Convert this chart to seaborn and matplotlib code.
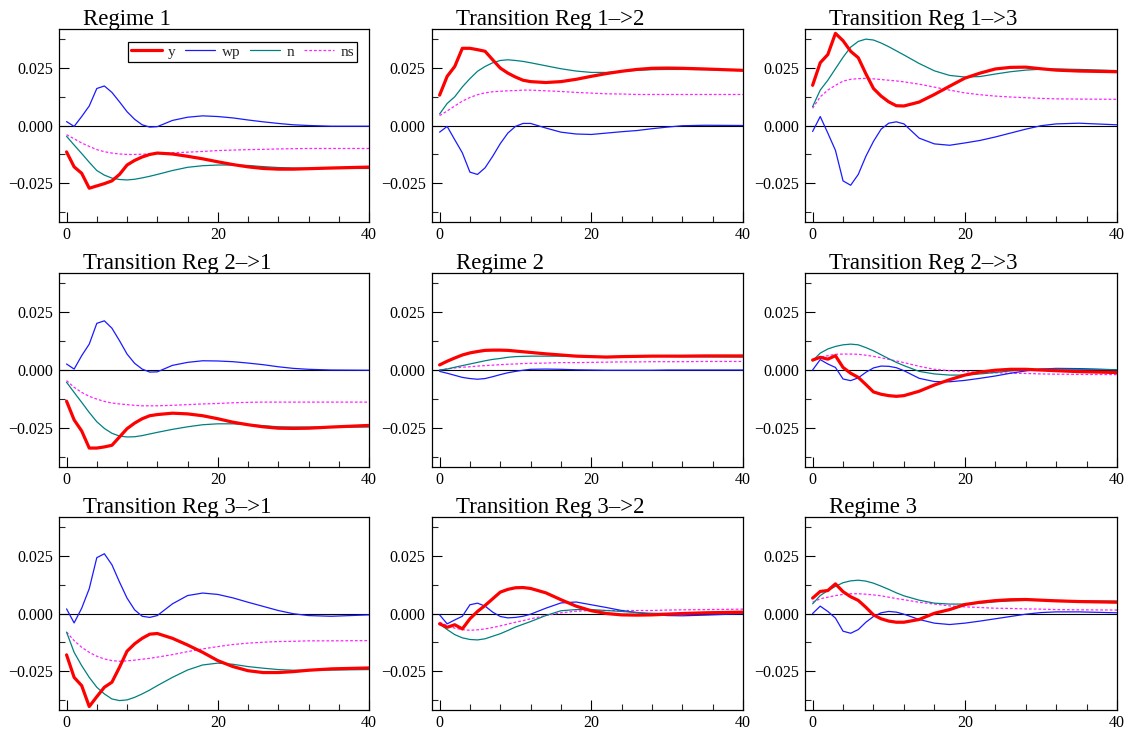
import matplotlib
matplotlib.use("Agg")
import matplotlib.pyplot as plt
from matplotlib.ticker import FixedLocator, MultipleLocator, FuncFormatter
import seaborn as sns

# Impulse-response horizons (quarters)
horizon = [0, 1, 2, 3, 4, 5, 6, 7, 8, 9, 10, 11, 12, 14, 16, 18, 20, 22, 24, 26, 28, 30, 32, 35, 40]

titles = ["Regime 1", "Transition Reg 1\u2013>2", "Transition Reg 1\u2013>3",
          "Transition Reg 2\u2013>1", "Regime 2", "Transition Reg 2\u2013>3",
          "Transition Reg 3\u2013>1", "Transition Reg 3\u2013>2", "Regime 3"]

series_names = ["y", "wp", "n", "ns"]

# Regime 1
y_11 = [-0.0115, -0.0180, -0.0208, -0.0273, -0.0263, -0.0253, -0.0241, -0.0213, -0.0172, -0.0152, -0.0137, -0.0126, -0.0120, -0.0124, -0.0134, -0.0145, -0.0158, -0.0170, -0.0180, -0.0187, -0.0190, -0.0190, -0.0188, -0.0185, -0.0181]
wp_11 = [0.0017, -0.0004, 0.0039, 0.0085, 0.0161, 0.0172, 0.0144, 0.0103, 0.0060, 0.0027, 0.0003, -0.0007, -0.0005, 0.0022, 0.0036, 0.0042, 0.0039, 0.0033, 0.0024, 0.0016, 0.0009, 0.0003, 0.0000, -0.0003, -0.0003]
n_11 = [-0.0047, -0.0085, -0.0122, -0.0160, -0.0196, -0.0216, -0.0229, -0.0235, -0.0237, -0.0234, -0.0228, -0.0221, -0.0213, -0.0196, -0.0182, -0.0175, -0.0172, -0.0172, -0.0174, -0.0179, -0.0183, -0.0185, -0.0186, -0.0187, -0.0187]
ns_11 = [-0.0040, -0.0058, -0.0076, -0.0091, -0.0105, -0.0114, -0.0120, -0.0124, -0.0126, -0.0126, -0.0125, -0.0124, -0.0122, -0.0119, -0.0116, -0.0113, -0.0109, -0.0107, -0.0105, -0.0104, -0.0102, -0.0101, -0.0100, -0.0100, -0.0100]

# Transition 1 -> 2
y_12 = [0.0132, 0.0214, 0.0257, 0.0336, 0.0336, 0.0330, 0.0323, 0.0286, 0.0250, 0.0228, 0.0211, 0.0197, 0.0191, 0.0187, 0.0191, 0.0201, 0.0214, 0.0226, 0.0236, 0.0244, 0.0249, 0.0250, 0.0249, 0.0246, 0.0240]
wp_12 = [-0.0029, -0.0004, -0.0062, -0.0119, -0.0203, -0.0213, -0.0184, -0.0134, -0.0079, -0.0033, -0.0004, 0.0009, 0.0009, -0.0011, -0.0029, -0.0037, -0.0039, -0.0033, -0.0027, -0.0022, -0.0014, -0.0007, -0.0001, 0.0001, 0.0000]
n_12 = [0.0050, 0.0096, 0.0125, 0.0168, 0.0204, 0.0236, 0.0257, 0.0273, 0.0283, 0.0286, 0.0283, 0.0279, 0.0273, 0.0260, 0.0247, 0.0237, 0.0231, 0.0231, 0.0236, 0.0240, 0.0243, 0.0244, 0.0244, 0.0243, 0.0241]
ns_12 = [0.0043, 0.0063, 0.0085, 0.0106, 0.0122, 0.0134, 0.0142, 0.0147, 0.0149, 0.0151, 0.0152, 0.0154, 0.0154, 0.0151, 0.0148, 0.0144, 0.0141, 0.0138, 0.0137, 0.0135, 0.0135, 0.0135, 0.0135, 0.0135, 0.0135]

# Transition 1 -> 3
y_13 = [0.0175, 0.0273, 0.0309, 0.0401, 0.0369, 0.0323, 0.0295, 0.0225, 0.0161, 0.0128, 0.0103, 0.0086, 0.0085, 0.0102, 0.0135, 0.0171, 0.0206, 0.0228, 0.0246, 0.0253, 0.0254, 0.0247, 0.0241, 0.0237, 0.0234]
wp_13 = [-0.0026, 0.0039, -0.0033, -0.0108, -0.0241, -0.0260, -0.0213, -0.0134, -0.0069, -0.0016, 0.0010, 0.0016, 0.0007, -0.0055, -0.0080, -0.0086, -0.0076, -0.0065, -0.0050, -0.0033, -0.0016, -0.0001, 0.0007, 0.0010, 0.0003]
n_13 = [0.0082, 0.0154, 0.0197, 0.0247, 0.0297, 0.0341, 0.0366, 0.0376, 0.0372, 0.0359, 0.0343, 0.0325, 0.0307, 0.0270, 0.0238, 0.0218, 0.0211, 0.0213, 0.0224, 0.0234, 0.0241, 0.0245, 0.0246, 0.0244, 0.0239]
ns_13 = [0.0075, 0.0125, 0.0154, 0.0175, 0.0193, 0.0201, 0.0204, 0.0205, 0.0203, 0.0200, 0.0197, 0.0194, 0.0190, 0.0180, 0.0167, 0.0154, 0.0142, 0.0134, 0.0128, 0.0124, 0.0121, 0.0118, 0.0116, 0.0115, 0.0114]

# Transition 2 -> 1
y_21 = [-0.0135, -0.0216, -0.0264, -0.0338, -0.0338, -0.0333, -0.0326, -0.0290, -0.0254, -0.0230, -0.0211, -0.0198, -0.0193, -0.0187, -0.0190, -0.0198, -0.0211, -0.0226, -0.0237, -0.0246, -0.0252, -0.0253, -0.0252, -0.0247, -0.0240]
wp_21 = [0.0026, 0.0004, 0.0062, 0.0112, 0.0202, 0.0213, 0.0181, 0.0127, 0.0069, 0.0029, 0.0004, -0.0009, -0.0008, 0.0020, 0.0033, 0.0040, 0.0039, 0.0036, 0.0030, 0.0023, 0.0014, 0.0007, 0.0003, 0.0000, -0.0001]
n_21 = [-0.0053, -0.0097, -0.0140, -0.0184, -0.0224, -0.0253, -0.0274, -0.0286, -0.0290, -0.0289, -0.0284, -0.0277, -0.0270, -0.0257, -0.0246, -0.0237, -0.0233, -0.0233, -0.0237, -0.0241, -0.0246, -0.0247, -0.0247, -0.0247, -0.0247]
ns_21 = [-0.0046, -0.0075, -0.0097, -0.0114, -0.0126, -0.0136, -0.0143, -0.0147, -0.0150, -0.0153, -0.0155, -0.0155, -0.0155, -0.0153, -0.0150, -0.0147, -0.0145, -0.0142, -0.0140, -0.0139, -0.0139, -0.0139, -0.0139, -0.0139, -0.0139]

# Regime 2
y_22 = [0.0022, 0.0038, 0.0052, 0.0065, 0.0074, 0.0080, 0.0085, 0.0086, 0.0086, 0.0085, 0.0082, 0.0079, 0.0076, 0.0070, 0.0065, 0.0060, 0.0058, 0.0056, 0.0058, 0.0059, 0.0060, 0.0060, 0.0060, 0.0061, 0.0061]
wp_22 = [-0.0006, -0.0014, -0.0023, -0.0032, -0.0037, -0.0040, -0.0037, -0.0029, -0.0020, -0.0012, -0.0006, -0.0001, 0.0003, 0.0004, 0.0003, 0.0001, 0.0000, -0.0001, -0.0001, -0.0001, -0.0001, 0.0000, 0.0000, 0.0000, 0.0000]
n_22 = [0.0000, 0.0004, 0.0012, 0.0019, 0.0026, 0.0033, 0.0040, 0.0046, 0.0050, 0.0055, 0.0058, 0.0059, 0.0060, 0.0060, 0.0060, 0.0059, 0.0058, 0.0058, 0.0058, 0.0059, 0.0059, 0.0059, 0.0058, 0.0057, 0.0056]
ns_22 = [0.0000, 0.0005, 0.0009, 0.0012, 0.0014, 0.0017, 0.0019, 0.0021, 0.0023, 0.0025, 0.0026, 0.0028, 0.0029, 0.0030, 0.0032, 0.0032, 0.0033, 0.0034, 0.0035, 0.0035, 0.0036, 0.0036, 0.0036, 0.0037, 0.0037]

# Transition 2 -> 3
y_23 = [0.0043, 0.0055, 0.0047, 0.0062, 0.0011, -0.0014, -0.0032, -0.0063, -0.0095, -0.0105, -0.0111, -0.0114, -0.0111, -0.0092, -0.0065, -0.0042, -0.0022, -0.0009, -0.0001, 0.0003, 0.0003, 0.0000, -0.0003, -0.0007, -0.0011]
wp_23 = [0.0000, 0.0045, 0.0026, 0.0011, -0.0039, -0.0046, -0.0034, -0.0010, 0.0009, 0.0017, 0.0016, 0.0010, -0.0003, -0.0036, -0.0050, -0.0051, -0.0045, -0.0036, -0.0026, -0.0014, -0.0004, 0.0004, 0.0007, 0.0006, 0.0001]
n_23 = [0.0040, 0.0073, 0.0091, 0.0102, 0.0109, 0.0112, 0.0109, 0.0097, 0.0083, 0.0066, 0.0049, 0.0033, 0.0019, -0.0006, -0.0017, -0.0022, -0.0022, -0.0017, -0.0011, -0.0004, 0.0000, 0.0003, 0.0004, 0.0003, 0.0001]
ns_23 = [0.0040, 0.0055, 0.0062, 0.0068, 0.0069, 0.0069, 0.0068, 0.0064, 0.0059, 0.0053, 0.0046, 0.0039, 0.0032, 0.0016, 0.0003, -0.0003, -0.0007, -0.0010, -0.0012, -0.0014, -0.0015, -0.0017, -0.0018, -0.0019, -0.0020]

# Transition 3 -> 1
y_31 = [-0.0180, -0.0278, -0.0314, -0.0405, -0.0362, -0.0321, -0.0299, -0.0234, -0.0164, -0.0132, -0.0108, -0.0090, -0.0087, -0.0108, -0.0137, -0.0169, -0.0205, -0.0231, -0.0249, -0.0257, -0.0257, -0.0253, -0.0247, -0.0241, -0.0237]
wp_31 = [0.0020, -0.0041, 0.0023, 0.0108, 0.0243, 0.0260, 0.0212, 0.0137, 0.0067, 0.0016, -0.0012, -0.0017, -0.0009, 0.0042, 0.0078, 0.0089, 0.0083, 0.0068, 0.0049, 0.0031, 0.0013, -0.0001, -0.0009, -0.0012, -0.0006]
n_31 = [-0.0081, -0.0169, -0.0227, -0.0278, -0.0321, -0.0350, -0.0372, -0.0379, -0.0376, -0.0365, -0.0350, -0.0333, -0.0314, -0.0278, -0.0246, -0.0224, -0.0216, -0.0221, -0.0231, -0.0238, -0.0244, -0.0247, -0.0247, -0.0246, -0.0244]
ns_31 = [-0.0081, -0.0118, -0.0147, -0.0169, -0.0186, -0.0198, -0.0205, -0.0208, -0.0206, -0.0203, -0.0199, -0.0195, -0.0190, -0.0179, -0.0166, -0.0154, -0.0144, -0.0135, -0.0129, -0.0125, -0.0122, -0.0121, -0.0119, -0.0119, -0.0118]

# Transition 3 -> 2
y_32 = [-0.0045, -0.0060, -0.0049, -0.0067, -0.0023, 0.0009, 0.0035, 0.0064, 0.0093, 0.0105, 0.0112, 0.0113, 0.0109, 0.0090, 0.0060, 0.0032, 0.0012, 0.0000, -0.0006, -0.0007, -0.0006, -0.0003, 0.0000, 0.0003, 0.0006]
wp_32 = [-0.0006, -0.0045, -0.0028, -0.0012, 0.0038, 0.0045, 0.0032, 0.0006, -0.0013, -0.0019, -0.0017, -0.0012, -0.0003, 0.0023, 0.0046, 0.0050, 0.0038, 0.0026, 0.0013, 0.0004, -0.0004, -0.0009, -0.0010, -0.0007, -0.0001]
n_32 = [-0.0045, -0.0070, -0.0092, -0.0106, -0.0113, -0.0115, -0.0110, -0.0099, -0.0088, -0.0074, -0.0059, -0.0047, -0.0035, -0.0009, 0.0012, 0.0017, 0.0017, 0.0013, 0.0009, 0.0004, 0.0001, 0.0000, 0.0000, 0.0001, 0.0003]
ns_32 = [-0.0038, -0.0052, -0.0064, -0.0070, -0.0073, -0.0071, -0.0067, -0.0061, -0.0054, -0.0046, -0.0038, -0.0031, -0.0023, -0.0009, 0.0003, 0.0010, 0.0013, 0.0013, 0.0013, 0.0013, 0.0013, 0.0015, 0.0016, 0.0017, 0.0019]

# Regime 3
y_33 = [0.0067, 0.0096, 0.0100, 0.0129, 0.0095, 0.0073, 0.0057, 0.0027, -0.0006, -0.0023, -0.0033, -0.0038, -0.0038, -0.0026, 0.0001, 0.0017, 0.0039, 0.0049, 0.0056, 0.0060, 0.0061, 0.0058, 0.0055, 0.0052, 0.0049]
wp_33 = [0.0000, 0.0032, 0.0009, -0.0020, -0.0077, -0.0086, -0.0070, -0.0038, -0.0013, 0.0003, 0.0009, 0.0006, -0.0003, -0.0026, -0.0042, -0.0048, -0.0042, -0.0033, -0.0023, -0.0013, -0.0003, 0.0004, 0.0007, 0.0007, 0.0003]
n_33 = [0.0042, 0.0078, 0.0100, 0.0118, 0.0134, 0.0142, 0.0145, 0.0141, 0.0132, 0.0119, 0.0105, 0.0090, 0.0077, 0.0058, 0.0045, 0.0041, 0.0041, 0.0045, 0.0051, 0.0055, 0.0057, 0.0057, 0.0057, 0.0055, 0.0054]
ns_33 = [0.0049, 0.0064, 0.0071, 0.0078, 0.0083, 0.0086, 0.0086, 0.0084, 0.0081, 0.0077, 0.0071, 0.0065, 0.0060, 0.0049, 0.0041, 0.0033, 0.0029, 0.0026, 0.0023, 0.0022, 0.0020, 0.0019, 0.0017, 0.0016, 0.0015]

panels = [
    (y_11, wp_11, n_11, ns_11), (y_12, wp_12, n_12, ns_12), (y_13, wp_13, n_13, ns_13),
    (y_21, wp_21, n_21, ns_21), (y_22, wp_22, n_22, ns_22), (y_23, wp_23, n_23, ns_23),
    (y_31, wp_31, n_31, ns_31), (y_32, wp_32, n_32, ns_32), (y_33, wp_33, n_33, ns_33),
]

styles = {
    "y": dict(color="#ff0000", linewidth=2.3, linestyle="-", zorder=5),
    "wp": dict(color="#1a1aff", linewidth=0.9, linestyle="-", zorder=3),
    "n": dict(color="#008080", linewidth=0.9, linestyle="-", zorder=4),
    "ns": dict(color="#ff22ff", linewidth=0.9, linestyle=(0, (2.2, 1.6)), zorder=2),
}

sns.set_theme(style="ticks")
plt.rcParams["font.family"] = ["Liberation Serif", "DejaVu Serif"]
plt.rcParams["axes.edgecolor"] = "black"
plt.rcParams["axes.linewidth"] = 0.9

W, H = 1126, 732
fig = plt.figure(figsize=(W / 100, H / 100), dpi=100)
fig.patch.set_facecolor("white")

cols = [(59, 369), (432, 743), (805, 1117)]
rows = [(29, 222), (273, 467), (517, 710)]

fmt = FuncFormatter(lambda v, p: f"{v:.3f}".replace("-", "\u2212"))

axes = []
for k, (vals, title) in enumerate(zip(panels, titles)):
    r, c = divmod(k, 3)
    (l, rr), (t, b) = cols[c], rows[r]
    ax = fig.add_axes([l / W, 1 - b / H, (rr - l) / W, (b - t) / H])
    axes.append(ax)
    ax.axhline(0, color="black", linewidth=0.8, zorder=1)
    for name, v in zip(series_names, vals):
        kw = dict(styles[name])
        if k == 0:
            kw["label"] = name
        sns.lineplot(x=horizon, y=v, ax=ax, **kw)
    if ax.get_legend() is not None:
        ax.get_legend().remove()
    ax.set_xlim(-1, 40)
    ax.set_ylim(-0.042, 0.042)
    ax.xaxis.set_major_locator(FixedLocator([0, 20, 40]))
    ax.xaxis.set_minor_locator(MultipleLocator(4))
    ax.yaxis.set_major_locator(FixedLocator([-0.025, 0.0, 0.025]))
    ax.yaxis.set_minor_locator(FixedLocator([-0.0375, -0.0125, 0.0125, 0.0375]))
    ax.yaxis.set_major_formatter(fmt)
    ax.tick_params(axis="both", which="major", direction="in", length=7, width=0.8,
                   labelsize=11.5, colors="black", top=False, right=False)
    ax.tick_params(axis="both", which="minor", direction="in", length=4, width=0.8,
                   top=False, right=False)
    ax.tick_params(axis="y", which="major", pad=4.5)
    ax.tick_params(axis="x", which="major", pad=3.5)
    for s in ax.spines.values():
        s.set_color("black")
        s.set_linewidth(0.9)
    ax.set_xlabel("")
    ax.set_ylabel("")
    ax.text(0.076, 1.021, title, transform=ax.transAxes, fontsize=16.5,
            va="baseline", ha="left", color="black")

leg = axes[0].legend(loc="upper right", bbox_to_anchor=(0.961, 0.933), borderaxespad=0,
                     ncol=4, fontsize=11, handlelength=2.0, handletextpad=0.4,
                     columnspacing=0.62, borderpad=0.2, frameon=True, fancybox=False,
                     framealpha=1, edgecolor="black")
leg.get_frame().set_linewidth(0.9)

fig.savefig("out.png", dpi=100, facecolor="white")
